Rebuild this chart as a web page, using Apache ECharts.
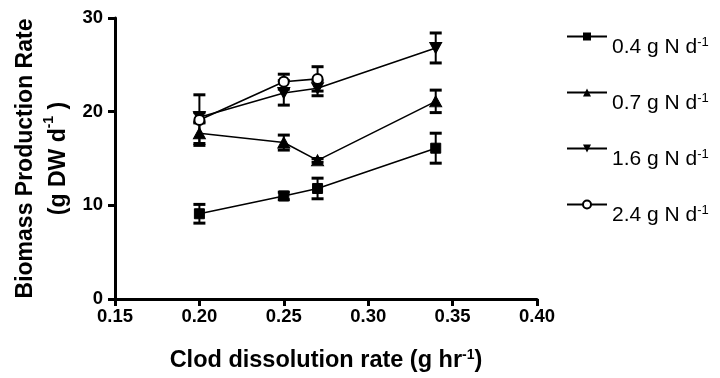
<!DOCTYPE html>
<html>
<head>
<meta charset="utf-8">
<script src="https://cdn.jsdelivr.net/npm/echarts@6/dist/echarts.min.js"></script>
<style>html,body{margin:0;padding:0;background:#fff}#c{width:720px;height:378px}</style>
</head>
<body>
<div id="c"></div>
<script>
// ---- data ----
var xValues = [0.20, 0.25, 0.27, 0.34];
var seriesNames = ['0.4 g N d', '0.7 g N d', '1.6 g N d', '2.4 g N d'];
var n04 = [9.1, 11.0, 11.8, 16.1];
var n04Err = [1.0, 0.4, 1.1, 1.6];
var n07 = [17.7, 16.7, 14.8, 21.1];
var n07Err = [1.1, 0.8, 0.2, 1.2];
var n16 = [19.4, 22.0, 22.5, 26.8];
var n16Err = [0.5, 1.3, 0.8, 1.6];
var n24 = [19.1, 23.2, 23.5, null];
var n24Err = [2.7, 0.8, 1.3, null];
var xTicks = [0.15, 0.20, 0.25, 0.30, 0.35, 0.40];
var yTicks = [0, 10, 20, 30];

var FONT = '"Liberation Sans", Arial, sans-serif';

function pairs(vals) {
  var out = [];
  for (var i = 0; i < xValues.length; i++) if (vals[i] != null) out.push([xValues[i], vals[i]]);
  return out;
}
function triples(vals, errs) {
  var out = [];
  for (var i = 0; i < xValues.length; i++) if (vals[i] != null) out.push([xValues[i], vals[i], errs[i]]);
  return out;
}

function errRender(params, api) {
  var x = api.value(0), y = api.value(1), e = api.value(2);
  var top = api.coord([x, y + e]);
  var bot = api.coord([x, y - e]);
  var hw = 6;
  var st = { stroke: '#000', lineWidth: 2 };
  var cs = { stroke: '#000', lineWidth: 3 };
  return {
    type: 'group',
    children: [
      { type: 'line', shape: { x1: top[0], y1: top[1], x2: bot[0], y2: bot[1] }, style: st },
      { type: 'line', shape: { x1: top[0] - hw, y1: top[1], x2: top[0] + hw, y2: top[1] }, style: cs },
      { type: 'line', shape: { x1: bot[0] - hw, y1: bot[1], x2: bot[0] + hw, y2: bot[1] }, style: cs }
    ]
  };
}

var symbols = [
  { symbol: 'rect', size: 10, rotate: 0, itemStyle: { color: '#000' } },
  { symbol: 'triangle', size: [12, 11], rotate: 0, itemStyle: { color: '#000' } },
  { symbol: 'triangle', size: [12, 11], rotate: 180, itemStyle: { color: '#000' } },
  { symbol: 'emptyCircle', size: 10, rotate: 0, itemStyle: { color: '#000', borderWidth: 2.5 } }
];
var vals = [n04, n07, n16, n24];
var errs = [n04Err, n07Err, n16Err, n24Err];

var series = [];
for (var k = 0; k < 4; k++) {
  series.push({
    type: 'custom',
    name: 'err' + k,
    renderItem: errRender,
    data: triples(vals[k], errs[k]),
    z: 1,
    silent: true
  });
}
for (var k2 = 0; k2 < 4; k2++) {
  series.push({
    type: 'line',
    name: seriesNames[k2],
    data: pairs(vals[k2]),
    symbol: symbols[k2].symbol,
    symbolSize: symbols[k2].size,
    symbolRotate: symbols[k2].rotate,
    showAllSymbol: true,
    lineStyle: { color: '#000', width: 1.6 },
    itemStyle: Object.assign({ opacity: 1, borderColor: '#000' }, symbols[k2].itemStyle),
    z: 3,
    animation: false
  });
}

var chart = echarts.init(document.getElementById('c'), null, { renderer: 'canvas' });
chart.setOption({
  animation: false,
  backgroundColor: '#fff',
  textStyle: { fontFamily: FONT, color: '#000' },
  grid: { left: 115, right: 183, top: 18, bottom: 79, containLabel: false },
  legend: {
    data: seriesNames,
    orient: 'vertical',
    left: 566,
    top: 19.5,
    padding: 0,
    itemWidth: 40,
    itemHeight: 10,
    itemGap: 17.5,
    inactiveColor: '#000',
    formatter: function (name) { return '{sp| }\n{a|' + name + '}{b|-1}'; },
    textStyle: {
      fontFamily: FONT,
      color: '#000',
      rich: {
        sp: { fontFamily: FONT, fontSize: 10, lineHeight: 22 },
        a: { fontFamily: FONT, fontSize: 21, color: '#000', lineHeight: 24 },
        b: { fontFamily: FONT, fontSize: 13, color: '#000', lineHeight: 12, verticalAlign: 'top' }
      }
    }
  },
  xAxis: {
    type: 'value',
    min: xTicks[0],
    max: xTicks[xTicks.length - 1],
    interval: 0.05,
    name: '{a|Clod dissolution rate (g hr}{b|-1}{a|)}',
    nameLocation: 'middle',
    nameGap: 49,
    nameTextStyle: {
      rich: {
        a: { fontFamily: FONT, fontSize: 23.5, fontWeight: 'bold', color: '#000', lineHeight: 26 },
        b: { fontFamily: FONT, fontSize: 14, fontWeight: 'bold', color: '#000', lineHeight: 14, verticalAlign: 'top' }
      }
    },
    axisLine: { show: true, lineStyle: { color: '#000', width: 3 } },
    axisTick: { show: true, inside: false, length: 7, lineStyle: { color: '#000', width: 3 } },
    axisLabel: {
      fontFamily: FONT, fontSize: 18.5, fontWeight: 'bold', color: '#000', margin: 8,
      formatter: function (v) { return v.toFixed(2); }
    },
    splitLine: { show: false }
  },
  yAxis: {
    type: 'value',
    min: yTicks[0],
    max: yTicks[yTicks.length - 1],
    interval: 10,
    name: '{a|Biomass Production Rate}\n{a|(g DW d}{b|-1}{a| )}',
    nameLocation: 'middle',
    nameGap: 40,
    nameTextStyle: {
      rich: {
        a: { fontFamily: FONT, fontSize: 23, fontWeight: 'bold', color: '#000', lineHeight: 33 },
        b: { fontFamily: FONT, fontSize: 14, fontWeight: 'bold', color: '#000', lineHeight: 22, verticalAlign: 'top' }
      }
    },
    axisLine: { show: true, lineStyle: { color: '#000', width: 3 } },
    axisTick: { show: true, inside: false, length: 7, lineStyle: { color: '#000', width: 3 } },
    axisLabel: { fontFamily: FONT, fontSize: 18.5, fontWeight: 'bold', color: '#000', margin: 12 },
    splitLine: { show: false }
  },
  series: series
});
</script>
</body>
</html>
